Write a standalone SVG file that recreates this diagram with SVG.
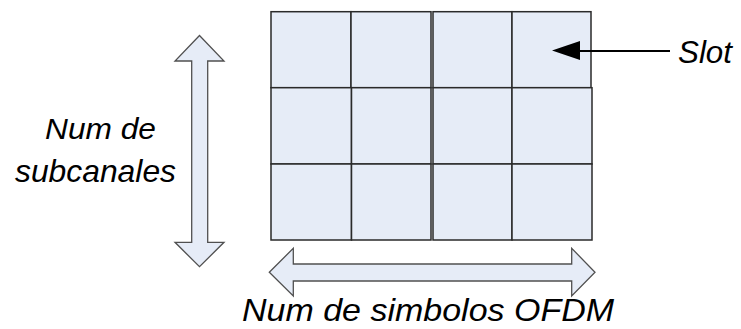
<svg xmlns="http://www.w3.org/2000/svg" width="741" height="329" viewBox="0 0 741 329">
<style>
.cell{fill:#e6ecf7;stroke:#2a2a2a;stroke-width:1.5}
.arr{fill:#e6ecf7;stroke:#505050;stroke-width:1.3;stroke-linejoin:miter}
.lbl{font-family:"Liberation Sans",Arial,sans-serif;font-style:italic;fill:#000}
</style>
<rect width="741" height="329" fill="#fff"/>
<g id="grid">
<rect class="cell" x="271" y="11.7" width="80" height="76"/>
<rect class="cell" x="351" y="11.7" width="80" height="76"/>
<rect class="cell" x="433" y="11.7" width="79" height="76"/>
<rect class="cell" x="512" y="11.7" width="79" height="76"/>
<rect class="cell" x="271" y="87.7" width="80.5" height="76.3"/>
<rect class="cell" x="351.5" y="87.7" width="79.5" height="76.3"/>
<rect class="cell" x="433" y="87.7" width="79" height="76.3"/>
<rect class="cell" x="512" y="87.7" width="80" height="76.3"/>
<rect class="cell" x="271" y="164" width="80.5" height="76"/>
<rect class="cell" x="351.5" y="164" width="79.5" height="76"/>
<rect class="cell" x="433" y="164" width="79" height="76"/>
<rect class="cell" x="512" y="164" width="80" height="76"/>
</g>
<g id="vertical-arrow">
<polygon class="arr" points="199.5,35.5 224,61 207.7,61 207.7,242.3 224,242.3 199.5,266.7 175,242.3 191.7,242.3 191.7,61 175,61"/>
</g>
<g id="horizontal-arrow">
<polygon class="arr" points="269.3,272.3 293.3,248.3 293.3,264 571.7,264 571.7,248.3 595,272.3 571.7,296 571.7,281 293.3,281 293.3,296"/>
</g>
<g id="connectors">
<line x1="578" y1="51" x2="670" y2="51" stroke="#000" stroke-width="2"/>
<polygon points="552,50.5 580,41 580,60" fill="#000"/>
</g>
<g id="label-subcanales">
<text class="lbl" x="45" y="138.5" font-size="29.5" textLength="111" lengthAdjust="spacingAndGlyphs">Num de</text>
<text class="lbl" x="15" y="182" font-size="30.5" textLength="161" lengthAdjust="spacingAndGlyphs">subcanales</text>
</g>
<g id="label-slot">
<text class="lbl" x="678" y="63.3" font-size="32" textLength="54" lengthAdjust="spacingAndGlyphs">Slot</text>
</g>
<g id="label-simbolos">
<text class="lbl" x="242" y="321" font-size="32" textLength="372" lengthAdjust="spacingAndGlyphs">Num de simbolos OFDM</text>
</g>
</svg>
